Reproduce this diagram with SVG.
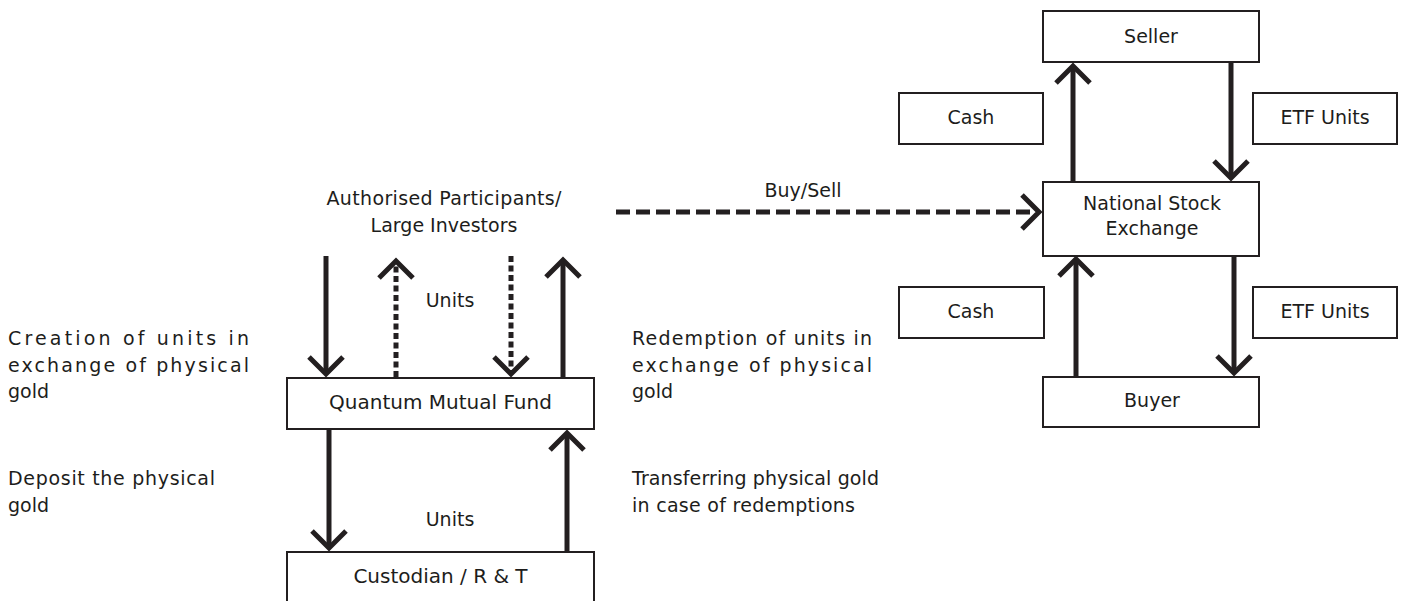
<svg xmlns="http://www.w3.org/2000/svg" width="1403" height="601" viewBox="0 0 1403 601">
<defs>
<style>
.box{fill:#fff;stroke:#231f20;stroke-width:2}
.t{font-family:"DejaVu Sans","Liberation Sans",sans-serif;font-size:19px;fill:#1d1d1b}
.c{text-anchor:middle}
.b{font-size:20px}
.ln{stroke:#231f20;stroke-width:5;fill:none;marker-end:url(#arr)}
.dot{stroke-dasharray:6 3.5}
.dash{stroke-dasharray:14 6}
</style>
<marker id="arr" markerUnits="userSpaceOnUse" markerWidth="40" markerHeight="40" refX="0" refY="0" orient="auto" overflow="visible">
<path d="M-17,-17 L0,0 L-17,17" fill="none" stroke="#231f20" stroke-width="5" stroke-linejoin="miter"/>
</marker>
</defs>
<rect width="1403" height="601" fill="#fff"/>

<g id="connectors">
<line class="ln" x1="326" y1="256" x2="326" y2="374"/>
<line class="ln dot" x1="396" y1="377" x2="396" y2="261"/>
<line class="ln dot" x1="511" y1="256" x2="511" y2="374"/>
<line class="ln" x1="563" y1="377" x2="563" y2="260"/>
<line class="ln" x1="329" y1="430" x2="329" y2="548"/>
<line class="ln" x1="567" y1="551" x2="567" y2="433"/>
<line class="ln dash" x1="616" y1="212" x2="1039" y2="212"/>
<line class="ln" x1="1073" y1="182" x2="1073" y2="66"/>
<line class="ln" x1="1231" y1="62" x2="1231" y2="178"/>
<line class="ln" x1="1076" y1="376" x2="1076" y2="259"/>
<line class="ln" x1="1234" y1="256" x2="1234" y2="373"/>
</g>

<g id="ap">
<text class="t c" x="444" y="205" textLength="235" lengthAdjust="spacing">Authorised Participants/</text>
<text class="t c" x="444" y="232">Large Investors</text>
</g>

<g id="qmf">
<rect class="box" x="287" y="378" width="307" height="51"/>
<text class="t c b" x="440.5" y="409">Quantum Mutual Fund</text>
</g>

<g id="custodian">
<rect class="box" x="287" y="552" width="307" height="54"/>
<text class="t c b" x="440.5" y="583">Custodian / R &amp; T</text>
</g>

<g id="seller">
<rect class="box" x="1043" y="11" width="216" height="51"/>
<text class="t c" x="1151" y="43">Seller</text>
</g>

<g id="nse">
<rect class="box" x="1043" y="182" width="216" height="74"/>
<text class="t c" x="1152" y="210">National Stock</text>
<text class="t c" x="1152" y="235">Exchange</text>
</g>

<g id="buyer">
<rect class="box" x="1043" y="377" width="216" height="50"/>
<text class="t c" x="1152" y="407">Buyer</text>
</g>

<g id="cash-top">
<rect class="box" x="899" y="93" width="144" height="51"/>
<text class="t c" x="971" y="124">Cash</text>
</g>

<g id="etf-top">
<rect class="box" x="1253" y="93" width="144" height="51"/>
<text class="t c" x="1325" y="124">ETF Units</text>
</g>

<g id="cash-bottom">
<rect class="box" x="899" y="287" width="145" height="51"/>
<text class="t c" x="971" y="318">Cash</text>
</g>

<g id="etf-bottom">
<rect class="box" x="1253" y="287" width="144" height="51"/>
<text class="t c" x="1325" y="318">ETF Units</text>
</g>

<g id="labels">
<text class="t c" x="450" y="307">Units</text>
<text class="t c" x="450" y="526">Units</text>
<text class="t c" x="803" y="197">Buy/Sell</text>
<text class="t" x="8" y="345" textLength="241" lengthAdjust="spacing">Creation of units in</text>
<text class="t" x="8" y="372" textLength="241" lengthAdjust="spacing">exchange of physical</text>
<text class="t" x="8" y="398">gold</text>
<text class="t" x="8" y="485" textLength="207" lengthAdjust="spacing">Deposit the physical</text>
<text class="t" x="8" y="512">gold</text>
<text class="t" x="632" y="345" textLength="240" lengthAdjust="spacing">Redemption of units in</text>
<text class="t" x="632" y="372" textLength="240" lengthAdjust="spacing">exchange of physical</text>
<text class="t" x="632" y="398">gold</text>
<text class="t" x="632" y="485" textLength="247" lengthAdjust="spacing">Transferring physical gold</text>
<text class="t" x="632" y="512" textLength="223" lengthAdjust="spacing">in case of redemptions</text>
</g>
</svg>
